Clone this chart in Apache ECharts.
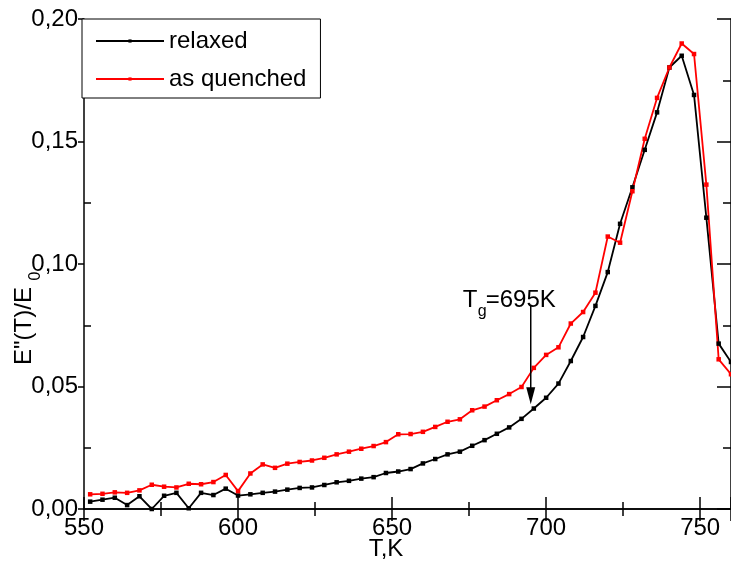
<!DOCTYPE html>
<html>
<head>
<meta charset="utf-8">
<script src="https://cdn.jsdelivr.net/npm/echarts@6/dist/echarts.min.js"></script>
<style>
  html, body { margin: 0; padding: 0; background: #ffffff; }
  #chart { width: 731px; height: 565px; }
</style>
</head>
<body>
<div id="chart"></div>
<script>
// Temperature steps of the measurement (K)
const temperatures = [552, 556, 560, 564, 568, 572, 576, 580, 584, 588, 592, 596, 600, 604, 608, 612, 616, 620,
  624, 628, 632, 636, 640, 644, 648, 652, 656, 660, 664, 668, 672, 676, 680, 684, 688, 692, 696, 700, 704,
  708, 712, 716, 720, 724, 728, 732, 736, 740, 744, 748, 752, 756, 760];

// Loss modulus E''(T)/E0, relaxed sample
const relaxed = [0.0030, 0.0038, 0.0046, 0.0016, 0.0052, 0.0000, 0.0054, 0.0066, 0.0003, 0.0066, 0.0057, 0.0083,
  0.0055, 0.0060, 0.0066, 0.0071, 0.0079, 0.0086, 0.0088, 0.0098, 0.0109, 0.0115, 0.0124, 0.0130, 0.0147,
  0.0153, 0.0163, 0.0186, 0.0204, 0.0223, 0.0234, 0.0258, 0.0281, 0.0307, 0.0333, 0.0368, 0.0410, 0.0454,
  0.0512, 0.0604, 0.0702, 0.0829, 0.0967, 0.1164, 0.1313, 0.1466, 0.1619, 0.1802, 0.1850, 0.1690, 0.1189,
  0.0675, 0.0600];

// Loss modulus E''(T)/E0, as-quenched sample
const asQuenched = [0.0060, 0.0062, 0.0068, 0.0066, 0.0076, 0.0099, 0.0091, 0.0088, 0.0103, 0.0101, 0.0110, 0.0139,
  0.0073, 0.0145, 0.0182, 0.0168, 0.0185, 0.0192, 0.0198, 0.0209, 0.0223, 0.0234, 0.0246, 0.0257, 0.0273,
  0.0305, 0.0306, 0.0315, 0.0335, 0.0356, 0.0366, 0.0403, 0.0418, 0.0444, 0.0469, 0.0498, 0.0576, 0.0629,
  0.0660, 0.0757, 0.0804, 0.0883, 0.1112, 0.1087, 0.1297, 0.1511, 0.1678, 0.1802, 0.1900, 0.1857, 0.1324,
  0.0611, 0.0550];

const seriesNames = ['relaxed', 'as quenched'];

// Axis ranges and tick spacing
const xRange = [550, 760];
const xStep = 50;
const yRange = [0, 0.20];
const yStep = 0.05;

// Glass transition marker
const glassTransition = 695;
const arrowTop = 0.0831;
const arrowTip = 0.0428;

const FONT = '"Liberation Sans", Arial, Helvetica, sans-serif';

const chart = echarts.init(document.getElementById('chart'), null, { renderer: 'canvas' });

const axisLine = { show: true, lineStyle: { color: '#000', width: 1.5 } };

function pairs(values) {
  return temperatures.map((t, i) => [t, values[i]]);
}

function lineSeries(name, values, color) {
  return {
    name: name,
    type: 'line',
    data: pairs(values),
    symbol: 'rect',
    symbolSize: 4.5,
    showAllSymbol: true,
    clip: true,
    lineStyle: { color: color, width: 1.8 },
    itemStyle: { color: color },
    emphasis: { disabled: true },
    animation: false
  };
}

chart.setOption({
  animation: false,
  backgroundColor: '#ffffff',
  grid: { left: 84, right: -6, top: 19, bottom: 56, containLabel: false },
  legend: {
    orient: 'vertical',
    left: 82,
    top: 19,
    padding: [7, 14, 4, 13],
    itemGap: 8,
    itemWidth: 68,
    itemHeight: 4,
    itemTextGap: 8,
    backgroundColor: '#ffffff',
    borderColor: '#000',
    borderWidth: 1,
    borderRadius: 0,
    z: 10,
    textStyle: { fontFamily: FONT, fontSize: 24, color: '#000', lineHeight: 30 },
    data: seriesNames
  },
  xAxis: [
    {
      type: 'value',
      position: 'bottom',
      min: xRange[0], max: xRange[1], interval: xStep,
      axisLine: axisLine,
      axisTick: { show: true, inside: true, length: 12, lineStyle: { color: '#000', width: 1.5 } },
      minorTick: { show: true, splitNumber: 2, length: 7, lineStyle: { color: '#000', width: 1.5 } },
      axisLabel: {
        show: true, margin: 7, color: '#000', fontFamily: FONT, fontSize: 24,
        showMaxLabel: false,
        formatter: v => String(v)
      },
      splitLine: { show: false }
    },
    {
      type: 'value',
      position: 'top',
      min: xRange[0], max: xRange[1], interval: xStep,
      axisLine: axisLine,
      axisTick: { show: true, inside: true, length: 12, lineStyle: { color: '#000', width: 1.5 } },
      minorTick: { show: true, splitNumber: 2, length: 7, lineStyle: { color: '#000', width: 1.5 } },
      axisLabel: { show: false },
      splitLine: { show: false }
    }
  ],
  yAxis: [
    {
      type: 'value',
      position: 'left',
      min: yRange[0], max: yRange[1], interval: yStep,
      axisLine: axisLine,
      axisTick: { show: true, inside: false, length: 6, lineStyle: { color: '#000', width: 1.5 } },
      axisLabel: {
        show: true, margin: 6, color: '#000', fontFamily: FONT, fontSize: 24,
        formatter: v => v.toFixed(2).replace('.', ',')
      },
      splitLine: { show: false }
    },
    {
      // inner minor ticks on the left frame
      type: 'value',
      position: 'left',
      min: yRange[0], max: yRange[1], interval: yStep,
      axisLine: { show: false },
      axisTick: { show: false, inside: true },
      minorTick: { show: true, splitNumber: 2, length: 7, lineStyle: { color: '#000', width: 1.5 } },
      axisLabel: { show: false },
      splitLine: { show: false }
    },
    {
      type: 'value',
      position: 'right',
      min: yRange[0], max: yRange[1], interval: yStep,
      axisLine: axisLine,
      axisTick: { show: true, inside: true, length: 14, lineStyle: { color: '#000', width: 1.5 } },
      minorTick: { show: true, splitNumber: 2, length: 8, lineStyle: { color: '#000', width: 1.5 } },
      axisLabel: { show: false },
      splitLine: { show: false }
    }
  ],
  series: [
    lineSeries(seriesNames[0], relaxed, '#000000'),
    lineSeries(seriesNames[1], asQuenched, '#ff0000')
  ]
});

// Glass-transition arrow and axis titles
const arrowStart = chart.convertToPixel({ gridIndex: 0 }, [glassTransition, arrowTop]);
const arrowEnd = chart.convertToPixel({ gridIndex: 0 }, [glassTransition, arrowTip]);
const headLen = 17, headHalf = 4.5;

chart.setOption({
  graphic: [
    {
      type: 'line', z: 20,
      shape: { x1: arrowStart[0], y1: arrowStart[1], x2: arrowEnd[0], y2: arrowEnd[1] - headLen + 1 },
      style: { stroke: '#000', lineWidth: 1.5 }
    },
    {
      type: 'polygon', z: 20,
      shape: { points: [[arrowEnd[0] - headHalf, arrowEnd[1] - headLen], [arrowEnd[0] + headHalf, arrowEnd[1] - headLen], [arrowEnd[0], arrowEnd[1]]] },
      style: { fill: '#000' }
    },
    {
      type: 'text', z: 20, x: arrowEnd[0] - 68, y: arrowStart[1] - 5,
      style: { text: 'T', font: '24px ' + FONT, fill: '#000', align: 'left', verticalAlign: 'middle' }
    },
    {
      type: 'text', z: 20, x: arrowEnd[0] - 53, y: arrowStart[1] + 6,
      style: { text: 'g', font: '16px ' + FONT, fill: '#000', align: 'left', verticalAlign: 'middle' }
    },
    {
      type: 'text', z: 20, x: arrowEnd[0] - 45, y: arrowStart[1] - 5,
      style: { text: '=695K', font: '24px ' + FONT, fill: '#000', align: 'left', verticalAlign: 'middle' }
    },
    {
      type: 'text', z: 20, x: 386, y: 549,
      style: { text: 'T,K', font: '24px ' + FONT, fill: '#000', align: 'center', verticalAlign: 'middle' }
    },
    {
      type: 'text', z: 20, x: 24, y: 326, rotation: Math.PI / 2,
      style: { text: 'E"(T)/E', font: '24px ' + FONT, fill: '#000', align: 'center', verticalAlign: 'middle' }
    },
    {
      type: 'text', z: 20, x: 36, y: 276, rotation: Math.PI / 2,
      style: { text: '0', font: '16px ' + FONT, fill: '#000', align: 'center', verticalAlign: 'middle' }
    }
  ]
});
</script>
</body>
</html>
